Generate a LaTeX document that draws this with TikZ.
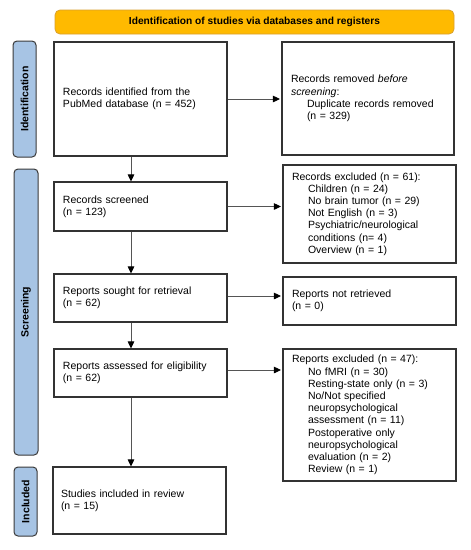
\documentclass[tikz,border=0pt]{standalone}
\usepackage{fontspec}
\setmainfont{Liberation Sans}
\usetikzlibrary{arrows.meta}
\definecolor{hdrfill}{HTML}{FFBA00}
\definecolor{hdrdraw}{HTML}{D9A030}
\definecolor{labfill}{HTML}{A7C4E4}
\definecolor{labdraw}{HTML}{3A3A3A}
\definecolor{boxdraw}{HTML}{333333}
\definecolor{arrline}{HTML}{555555}
\begin{document}
\begin{tikzpicture}[x=1pt,y=-1pt,
  every node/.style={font=\fontsize{10.5}{12.2}\selectfont},
  hdr/.style={draw=hdrdraw,fill=hdrfill,rounded corners=5pt,line width=0.8pt,
    minimum width=399pt,minimum height=24pt,inner sep=0pt,
    font=\fontsize{10.2}{12}\selectfont\bfseries},
  lab/.style={draw=labdraw,fill=labfill,rounded corners=4pt,line width=1pt,
    inner sep=0pt,rotate=90,font=\fontsize{10.5}{12}\selectfont\bfseries},
  fbox/.style={draw=boxdraw,line width=1.1pt,rectangle,inner xsep=9pt,inner ysep=0pt,
    align=left,text width=#1},
  fbox/.default=155pt,
  arr/.style={draw=arrline,line width=0.9pt,-{Triangle[length=7pt,width=6.5pt,black]}}
]
\useasboundingbox (0,0) rectangle (471,550);
\fill[white] (0,0) rectangle (471,550);

\node[hdr] (head) at (254.5,22) {Identification of studies via databases and registers};

\node[lab,minimum width=116pt,minimum height=23pt] (idlab) at (24.5,99) {Identification};
\node[lab,minimum width=286pt,minimum height=24pt] (scrlab) at (26,312) {Screening};
\node[lab,minimum width=69pt,minimum height=23pt] (inclab) at (25.5,501.5) {Included};

\node[fbox,minimum height=114pt] (b1) at (140.5,99)
  {Records identified from the\\PubMed database (n = 452)};
\node[fbox=154pt,minimum height=113pt] (r1) at (368,98.5)
  {Records removed \emph{before}\\\emph{screening}:\\
   \hspace*{16pt}Duplicate records removed\\\hspace*{16pt}(n = 329)};

\node[fbox,minimum height=49pt] (b2) at (140.5,206.5)
  {Records screened\\(n = 123)};
\node[fbox,minimum height=98pt] (r2) at (369.5,214)
  {Records excluded (n = 61):\\
   \hspace*{16pt}Children (n = 24)\\
   \hspace*{16pt}No brain tumor (n = 29)\\
   \hspace*{16pt}Not English (n = 3)\\
   \hspace*{16pt}Psychiatric/neurological\\
   \hspace*{16pt}conditions (n= 4)\\
   \hspace*{16pt}Overview (n = 1)};

\node[fbox,minimum height=48pt] (b3) at (140.5,298)
  {Reports sought for retrieval\\(n = 62)};
\node[fbox,minimum height=48pt] (r3) at (369.5,301)
  {Reports not retrieved\\(n = 0)};

\node[fbox,minimum height=48pt] (b4) at (140.5,373)
  {Reports assessed for eligibility\\(n = 62)};
\node[fbox,minimum height=132pt] (r4) at (369.5,415)
  {Reports excluded (n = 47):\\
   \hspace*{16pt}No fMRI (n = 30)\\
   \hspace*{16pt}Resting-state only (n = 3)\\
   \hspace*{16pt}No/Not specified\\
   \hspace*{16pt}neuropsychological\\
   \hspace*{16pt}assessment (n = 11)\\
   \hspace*{16pt}Postoperative only\\
   \hspace*{16pt}neuropsychological\\
   \hspace*{16pt}evaluation (n = 2)\\
   \hspace*{16pt}Review (n = 1)};

\node[fbox,inner xsep=8pt,text width=157pt,minimum height=67pt] (b5) at (139.5,500.5)
  {Studies included in review\\(n = 15)};

\coordinate (vx) at (131,0);
\draw[arr] (vx |- b1.south) -- (vx |- b2.north);
\draw[arr] (vx |- b2.south) -- (vx |- b3.north);
\draw[arr] (vx |- b3.south) -- (vx |- b4.north);
\draw[arr] (vx |- b4.south) -- (vx |- b5.north);

\draw[arr] (b1.east) -- ([xshift=-1.5pt]b1.east -| r1.west);
\draw[arr] (b2.east) -- ([xshift=-1.5pt]b2.east -| r2.west);
\draw[arr] ([yshift=2pt]b3.east) -- ([xshift=-1.5pt,yshift=2pt]b3.east -| r3.west);
\draw[arr] ([yshift=3pt]b4.east) -- ([xshift=-1.5pt,yshift=3pt]b4.east -| r4.west);
\end{tikzpicture}
\end{document}
